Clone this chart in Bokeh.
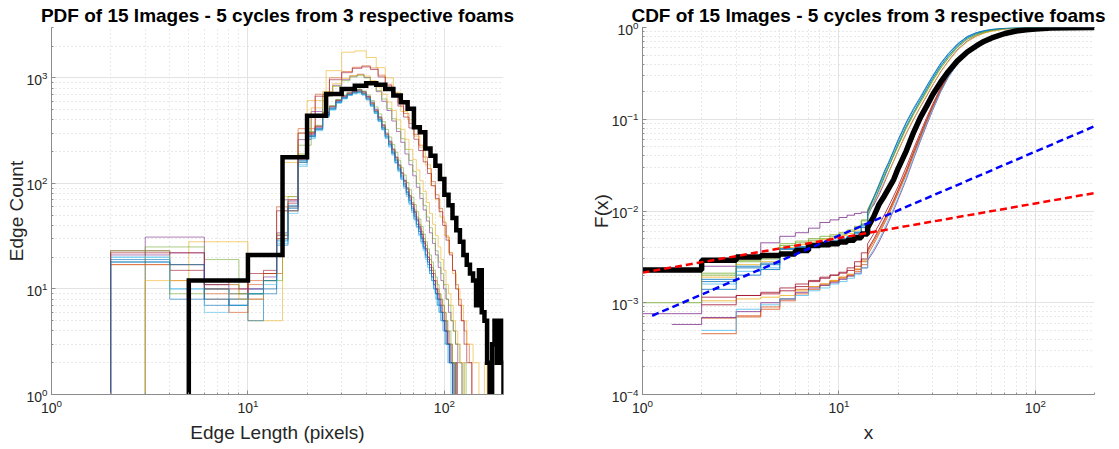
from bokeh.plotting import figure
from bokeh.layouts import row
from bokeh.models import Range1d
from bokeh.embed import file_html
from bokeh.resources import INLINE

MATLAB_COLORS = ["#0072BD", "#D95319", "#EDB120", "#7E2F8E", "#77AC30", "#4DBEEE", "#A2142F"]

PDF_TITLE = "PDF of 15 Images - 5 cycles from 3 respective foams"
CDF_TITLE = "CDF of 15 Images - 5 cycles from 3 respective foams"

# ---------------- PDF data ----------------
PDF_MEAN_START = 5
PDF_MEAN_WIDTH = 5
PDF_MEAN_COUNTS = [12, 21, 177, 438, 704, 785, 844, 887, 862, 785, 680, 586, 511, 340, 305,
                   214, 183, 147, 110, 78, 62, 47, 36, 28, 21, 17, 14, 12, 7, 15,
                   6, 5, 2, 0, 3, 5, 2, 5, 2]

PDF_IMG_START = [2, 2, 5, 3, 3, 2, 2, 2, 2, 3, 2, 2, 2, 2, 2]
PDF_IMG_WIDTH = [2, 4, 5, 3, 3, 2, 2, 2, 2, 3, 2, 2, 2, 4, 2]

PDF_IMG_01 = [19, 17, 7, 8, 9, 10, 30, 62, 165, 285, 330, 450, 520, 600, 655, 700, 745, 760, 720, 650,
              565, 480, 405, 340, 282, 238, 200, 168, 140, 118, 100, 84, 71, 60, 51, 44, 37, 31, 27, 23,
              19, 16, 14, 12, 10, 8, 7, 6, 5, 5, 4, 3, 3, 2, 2, 1, 2, 1, 0, 1, 1, 0, 1]
PDF_IMG_02 = [17, 8, 12, 60, 330, 700, 1000, 1150, 1260, 1300, 1240, 1060, 870, 720, 580, 460, 370, 290,
              230, 178, 138, 104, 78, 58, 43, 31, 22, 15, 11, 8, 5, 4, 3, 2, 1, 1, 1, 0, 1, 1]
PDF_IMG_03 = [28, 5, 158, 610, 1170, 1750, 1800, 1560, 1250, 1000, 730, 480, 400, 280, 220, 150, 95, 70,
              48, 32, 22, 14, 10, 7, 5, 3, 3, 2, 2, 1, 1, 2, 1, 1, 1, 1, 1, 1]
PDF_IMG_04 = [31, 11, 10, 14, 70, 260, 480, 700, 850, 960, 1040, 1080, 1010, 880, 740, 600, 490, 390,
              310, 245, 190, 150, 118, 92, 72, 56, 44, 34, 27, 21, 16, 12, 10, 8, 6, 5, 4, 3, 2, 2,
              1, 1, 0, 1, 1, 0, 1]
PDF_IMG_05 = [25, 19, 9, 12, 55, 230, 450, 670, 830, 940, 1020, 1050, 1000, 890, 760, 630, 510, 410,
              330, 265, 210, 165, 130, 100, 80, 62, 48, 38, 30, 23, 18, 14, 11, 8, 7, 5, 4, 3, 3, 2,
              1, 2, 1, 0, 1, 1, 0, 1]
PDF_IMG_06 = [20, 10, 6, 8, 10, 12, 28, 55, 150, 270, 320, 430, 500, 580, 640, 690, 720, 735, 700, 630,
              550, 470, 395, 330, 275, 230, 192, 160, 135, 112, 95, 80, 67, 57, 48, 41, 35, 30, 25, 21,
              18, 15, 13, 11, 9, 8, 7, 6, 5, 4, 4, 3, 2, 2, 2, 1, 1, 0, 1, 1, 0, 1]
PDF_IMG_07 = [23, 15, 11, 12, 8, 15, 32, 65, 175, 300, 345, 470, 540, 620, 680, 720, 755, 770, 735, 665,
              580, 495, 420, 352, 292, 246, 207, 174, 146, 123, 104, 88, 74, 63, 53, 45, 38, 33, 28, 24,
              20, 17, 15, 12, 10, 9, 8, 7, 6, 5, 4, 3, 3, 2, 2, 1, 2, 1, 0, 1, 1, 0, 1]
PDF_IMG_08 = [18, 8, 10, 7, 5, 9, 26, 58, 160, 280, 325, 440, 505, 585, 640, 685, 715, 725, 690, 620,
              540, 460, 388, 325, 270, 226, 190, 158, 132, 110, 93, 78, 65, 55, 46, 39, 33, 28, 24, 20,
              17, 14, 12, 10, 9, 7, 6, 5, 5, 4, 3, 3, 2, 2, 1, 1, 1, 0, 1]
PDF_IMG_09 = [17, 12, 9, 6, 11, 14, 30, 70, 185, 305, 350, 465, 535, 610, 665, 705, 735, 745, 715, 650,
              570, 490, 415, 350, 292, 247, 209, 176, 149, 126, 107, 91, 77, 66, 56, 48, 41, 35, 30, 26,
              22, 19, 16, 14, 12, 10, 9, 8, 7, 6, 5, 4, 3, 3, 2, 2, 2, 1, 1, 1, 0, 1, 1, 0, 1]
PDF_IMG_10 = [12, 11, 8, 14, 75, 300, 520, 740, 880, 990, 1050, 1080, 1040, 940, 820, 700, 590, 490,
              400, 325, 262, 210, 168, 134, 106, 84, 66, 52, 41, 32, 25, 19, 15, 11, 9, 7, 5, 4, 3, 2,
              2, 1, 1, 1, 0, 1, 1, 0, 1]
PDF_IMG_11 = [21, 22, 11, 9, 10, 13, 34, 68, 170, 290, 340, 455, 530, 610, 670, 715, 750, 775, 740, 670,
              590, 505, 428, 360, 300, 252, 212, 178, 150, 126, 107, 90, 76, 64, 54, 46, 39, 33, 28, 24,
              20, 17, 14, 12, 10, 9, 8, 6, 5, 4, 4, 3, 2, 2, 1, 1, 1, 0, 1]
PDF_IMG_12 = [23, 9, 10, 9, 9, 12, 33, 75, 190, 310, 355, 475, 545, 625, 685, 730, 760, 780, 750, 690,
              610, 530, 455, 385, 325, 275, 233, 197, 166, 141, 120, 102, 87, 74, 63, 54, 46, 39, 33, 28,
              24, 21, 18, 15, 13, 11, 9, 8, 7, 6, 5, 4, 4, 3, 2, 2, 1, 1, 1, 0, 1, 1]
PDF_IMG_13 = [20, 10, 10, 7, 9, 11, 27, 52, 145, 265, 315, 425, 495, 575, 630, 680, 705, 720, 690, 620,
              540, 460, 385, 320, 265, 220, 185, 155, 129, 108, 90, 75, 63, 53, 45, 38, 32, 27, 23, 19,
              16, 14, 12, 10, 8, 7, 6, 5, 4, 3, 3, 2, 2, 1, 1, 1, 0, 1]
PDF_IMG_14 = [22, 10, 14, 55, 300, 670, 960, 1120, 1230, 1270, 1200, 1020, 840, 680, 540, 425, 335, 262,
              205, 160, 124, 95, 72, 54, 40, 29, 21, 15, 10, 7, 5, 3, 2, 2, 1, 1, 0, 1, 1]
PDF_IMG_15 = [18, 17, 8, 7, 9, 12, 29, 60, 158, 278, 328, 445, 512, 592, 648, 695, 728, 740, 705, 635,
              555, 475, 400, 335, 280, 234, 196, 164, 137, 115, 97, 82, 69, 58, 49, 41, 35, 30, 25, 21,
              18, 15, 13, 11, 9, 8, 7, 6, 5, 4, 3, 3, 2, 2, 1, 1, 1, 0, 1, 1]
PDF_IMG_COUNTS = [PDF_IMG_01, PDF_IMG_02, PDF_IMG_03, PDF_IMG_04, PDF_IMG_05, PDF_IMG_06, PDF_IMG_07,
                  PDF_IMG_08, PDF_IMG_09, PDF_IMG_10, PDF_IMG_11, PDF_IMG_12, PDF_IMG_13, PDF_IMG_14,
                  PDF_IMG_15]

# ---------------- CDF data ----------------
CDF_X = [1, 1.41, 2, 3, 4, 5, 6, 7, 8, 9, 10, 11, 12, 13, 14, 15, 16, 17, 18, 19, 20,
         22, 24, 26, 28, 30, 33, 36, 40, 45, 50, 55, 60, 70, 80, 90, 100, 120, 150, 200]
CDF_MEAN = [0.00227, 0.00227, 0.00291, 0.00316, 0.00328, 0.0034, 0.0037, 0.0042, 0.0043, 0.0044,
            0.0046, 0.0048, 0.0051, 0.0056, 0.0066, 0.0086, 0.0118, 0.0145, 0.018, 0.022, 0.029,
            0.045, 0.072, 0.105, 0.14, 0.185, 0.255, 0.33, 0.43, 0.54, 0.63, 0.71, 0.77, 0.86,
            0.915, 0.945, 0.965, 0.985, 0.996, 1.0]
N = None
CDF_IMG_01 = [N, N, 1.7e-3, 2.4e-3, 2.6e-3, 3.8e-3, 4.0e-3, 4.3e-3, 4.5e-3, 4.7e-3, 4.9e-3, 5.2e-3, 5.8e-3,
              7.0e-3, 9.5e-3, 0.0135, 0.019, 0.026, 0.034, 0.045, 0.058, 0.09, 0.128, 0.17, 0.225, 0.29,
              0.4, 0.51, 0.65, 0.79, 0.87, 0.92, 0.95, 0.978, 0.99, 0.995, 0.997, 0.999, 1.0, 1.0]
CDF_IMG_02 = [N, N, 4.6e-4, 7.0e-4, 8.5e-4, 1.1e-3, 1.4e-3, 1.5e-3, 1.6e-3, 1.75e-3, 1.9e-3, 2.0e-3, 2.2e-3,
              2.6e-3, 3.3e-3, 4.3e-3, 5.6e-3, 7.2e-3, 9.3e-3, 0.012, 0.0155, 0.025, 0.041, 0.063, 0.093,
              0.132, 0.205, 0.29, 0.405, 0.535, 0.635, 0.715, 0.775, 0.865, 0.92, 0.952, 0.972, 0.99,
              0.998, 1.0]
CDF_IMG_03 = [N, N, 1.05e-3, 1.1e-3, 1.15e-3, 1.2e-3, 1.35e-3, 1.5e-3, 1.6e-3, 1.75e-3, 1.9e-3, 2.05e-3,
              2.35e-3, 2.9e-3, 3.7e-3, 4.8e-3, 6.2e-3, 8.0e-3, 0.0103, 0.0133, 0.017, 0.0275, 0.045, 0.068,
              0.1, 0.14, 0.215, 0.3, 0.415, 0.545, 0.645, 0.725, 0.785, 0.872, 0.925, 0.956, 0.975, 0.991,
              0.998, 1.0]
CDF_IMG_04 = [7.6e-4, 7.6e-4, 2.5e-3, 3.0e-3, 4.5e-3, 5.3e-3, 5.8e-3, 6.5e-3, 7.5e-3, 8.0e-3, 8.5e-3,
              9.0e-3, 9.4e-3, 9.7e-3, 0.0101, 0.0115, 0.015, 0.02, 0.027, 0.035, 0.045, 0.07, 0.1, 0.137,
              0.18, 0.235, 0.33, 0.43, 0.57, 0.71, 0.81, 0.875, 0.92, 0.965, 0.982, 0.99, 0.995, 0.998,
              0.999, 1.0]
CDF_IMG_05 = [1.0e-3, 1.0e-3, 2.1e-3, 2.8e-3, 3.0e-3, 4.2e-3, 4.5e-3, 4.8e-3, 5.0e-3, 5.3e-3, 5.6e-3,
              6.0e-3, 6.6e-3, 7.8e-3, 0.0102, 0.0138, 0.0185, 0.024, 0.031, 0.04, 0.051, 0.079, 0.113,
              0.152, 0.2, 0.26, 0.36, 0.46, 0.6, 0.74, 0.83, 0.89, 0.93, 0.97, 0.985, 0.992, 0.996, 0.998,
              0.999, 1.0]
CDF_IMG_06 = [N, N, 1.6e-3, 2.2e-3, 2.4e-3, 3.5e-3, 3.8e-3, 4.1e-3, 4.4e-3, 4.6e-3, 4.9e-3, 5.2e-3, 5.7e-3,
              6.8e-3, 9.0e-3, 0.0125, 0.0175, 0.024, 0.032, 0.042, 0.054, 0.084, 0.12, 0.162, 0.215,
              0.278, 0.385, 0.49, 0.63, 0.775, 0.86, 0.91, 0.945, 0.975, 0.988, 0.994, 0.997, 0.999, 1.0,
              1.0]
CDF_IMG_07 = [N, N, 9.5e-4, 1.2e-3, 1.25e-3, 1.35e-3, 1.5e-3, 1.7e-3, 1.85e-3, 2.0e-3, 2.1e-3, 2.25e-3,
              2.5e-3, 3.0e-3, 3.8e-3, 4.9e-3, 6.3e-3, 8.0e-3, 0.0102, 0.0131, 0.0168, 0.027, 0.044, 0.067,
              0.098, 0.138, 0.212, 0.298, 0.412, 0.54, 0.64, 0.72, 0.78, 0.87, 0.922, 0.954, 0.973, 0.99,
              0.998, 1.0]
CDF_IMG_08 = [N, N, 1.4e-3, 2.0e-3, 2.3e-3, 3.3e-3, 3.7e-3, 4.0e-3, 4.3e-3, 4.5e-3, 4.8e-3, 5.1e-3, 5.6e-3,
              6.6e-3, 8.8e-3, 0.012, 0.017, 0.023, 0.031, 0.041, 0.053, 0.083, 0.118, 0.16, 0.212, 0.275,
              0.38, 0.485, 0.625, 0.77, 0.855, 0.905, 0.94, 0.973, 0.987, 0.993, 0.996, 0.999, 1.0, 1.0]
CDF_IMG_09 = [N, N, 6.8e-4, 7.2e-4, 9.0e-4, 1.05e-3, 1.25e-3, 1.4e-3, 1.55e-3, 1.7e-3, 1.85e-3, 2.0e-3,
              2.3e-3, 2.8e-3, 3.6e-3, 4.6e-3, 5.9e-3, 7.6e-3, 9.8e-3, 0.0126, 0.0162, 0.026, 0.042, 0.064,
              0.095, 0.135, 0.208, 0.294, 0.408, 0.538, 0.638, 0.718, 0.778, 0.868, 0.921, 0.953, 0.973,
              0.99, 0.998, 1.0]
CDF_IMG_10 = [N, N, 1.9e-3, 2.6e-3, 2.8e-3, 4.0e-3, 4.3e-3, 4.6e-3, 4.9e-3, 5.1e-3, 5.4e-3, 5.7e-3, 6.2e-3,
              7.2e-3, 9.2e-3, 0.0122, 0.016, 0.021, 0.027, 0.035, 0.045, 0.07, 0.101, 0.138, 0.183, 0.237,
              0.33, 0.425, 0.56, 0.7, 0.8, 0.87, 0.91, 0.96, 0.98, 0.99, 0.995, 0.998, 0.999, 1.0]
CDF_IMG_11 = [N, 5.8e-4, 6.9e-4, 8.0e-4, 1.0e-3, 1.1e-3, 1.3e-3, 1.45e-3, 1.55e-3, 1.65e-3, 1.8e-3, 1.95e-3,
              2.1e-3, 2.4e-3, 2.9e-3, 3.6e-3, 4.6e-3, 6.0e-3, 7.8e-3, 0.0102, 0.0133, 0.022, 0.037, 0.058,
              0.087, 0.125, 0.2, 0.285, 0.4, 0.53, 0.63, 0.71, 0.77, 0.86, 0.915, 0.95, 0.97, 0.988, 0.997,
              1.0]
CDF_IMG_12 = [N, N, 2.0e-3, 2.9e-3, 3.1e-3, 4.4e-3, 4.7e-3, 5.0e-3, 5.3e-3, 5.5e-3, 5.8e-3, 6.2e-3, 6.8e-3,
              8.0e-3, 0.0104, 0.014, 0.0188, 0.0245, 0.0315, 0.041, 0.052, 0.081, 0.116, 0.156, 0.205,
              0.265, 0.365, 0.47, 0.61, 0.75, 0.84, 0.895, 0.935, 0.972, 0.986, 0.993, 0.996, 0.999, 1.0,
              1.0]
CDF_IMG_13 = [N, N, 5.0e-4, 8.5e-4, 9.5e-4, 1.1e-3, 1.2e-3, 1.35e-3, 1.45e-3, 1.6e-3, 1.7e-3, 1.85e-3,
              2.05e-3, 2.4e-3, 3.0e-3, 3.8e-3, 4.9e-3, 6.4e-3, 8.3e-3, 0.0108, 0.014, 0.023, 0.038, 0.06,
              0.09, 0.128, 0.2, 0.285, 0.4, 0.532, 0.632, 0.712, 0.772, 0.862, 0.917, 0.95, 0.971, 0.989,
              0.997, 1.0]
CDF_IMG_14 = [N, N, 1.15e-3, 1.2e-3, 1.3e-3, 1.45e-3, 1.6e-3, 1.75e-3, 1.9e-3, 2.0e-3, 2.15e-3, 2.4e-3,
              2.8e-3, 3.5e-3, 4.4e-3, 5.6e-3, 7.1e-3, 9.0e-3, 0.0115, 0.0146, 0.0185, 0.03, 0.048, 0.072,
              0.105, 0.146, 0.222, 0.308, 0.42, 0.548, 0.648, 0.728, 0.788, 0.875, 0.927, 0.957, 0.976,
              0.991, 0.998, 1.0]
CDF_IMG_15 = [N, N, 1.8e-3, 2.5e-3, 2.7e-3, 3.9e-3, 4.1e-3, 4.4e-3, 4.6e-3, 4.8e-3, 5.0e-3, 5.3e-3, 5.9e-3,
              7.2e-3, 9.8e-3, 0.014, 0.0195, 0.027, 0.035, 0.046, 0.06, 0.093, 0.132, 0.176, 0.232, 0.298,
              0.41, 0.52, 0.66, 0.8, 0.88, 0.925, 0.955, 0.98, 0.991, 0.996, 0.998, 0.999, 1.0, 1.0]
CDF_IMG = [CDF_IMG_01, CDF_IMG_02, CDF_IMG_03, CDF_IMG_04, CDF_IMG_05, CDF_IMG_06, CDF_IMG_07,
           CDF_IMG_08, CDF_IMG_09, CDF_IMG_10, CDF_IMG_11, CDF_IMG_12, CDF_IMG_13, CDF_IMG_14, CDF_IMG_15]

FIT_RED_X = [1, 200]
FIT_RED_F = [0.00213, 0.0157]
FIT_BLUE_X = [1.12, 200]
FIT_BLUE_F = [0.000722, 0.0839]

FONT = "Liberation Sans"
TEXT = "#262626"


def pdf_path(start, width, counts, floor=0.3):
    edges = [start + width * i for i in range(len(counts) + 1)]
    xs, ys = [edges[0]], [floor]
    for i, c in enumerate(counts):
        v = c if c > 0 else floor
        xs += [edges[i], edges[i + 1]]
        ys += [v, v]
    xs.append(edges[-1])
    ys.append(floor)
    return xs, ys


def cdf_path(xg, fg, step_until=14):
    pts = [(x, f) for x, f in zip(xg, fg) if f is not None]
    xs, ys = [], []
    for i, (x, f) in enumerate(pts):
        if i > 0 and x <= step_until:
            xs.append(x)
            ys.append(pts[i - 1][1])
        xs.append(x)
        ys.append(f)
    return xs, ys


def make_fig(title, yr, xlabel, ylabel, left, right, ylabel_standoff):
    p = figure(x_axis_type="log", y_axis_type="log",
               x_range=Range1d(1, 200), y_range=Range1d(*yr),
               frame_width=452, frame_height=367,
               min_border_left=left, min_border_right=right,
               min_border_top=27, min_border_bottom=52,
               toolbar_location=None, output_backend="svg", title=title)
    p.outline_line_color = None
    p.background_fill_color = "white"
    p.border_fill_color = "white"
    p.title.text_font = FONT
    p.title.text_font_size = "19px"
    p.title.text_font_style = "bold"
    p.title.text_color = "black"
    p.title.align = "center"
    p.title.standoff = 4
    for ax in (p.xaxis[0], p.yaxis[0]):
        ax.ticker.num_minor_ticks = 10
        ax.axis_line_color = "#8c8c8c"
        ax.major_tick_line_color = "#8c8c8c"
        ax.minor_tick_line_color = "#8c8c8c"
        ax.major_tick_in = 4
        ax.major_tick_out = 0
        ax.minor_tick_in = 2
        ax.minor_tick_out = 0
        ax.major_label_text_font = FONT
        ax.major_label_text_font_size = "14px"
        ax.major_label_text_color = TEXT
        ax.axis_label_text_font = FONT
        ax.axis_label_text_font_size = "19px"
        ax.axis_label_text_font_style = "normal"
        ax.axis_label_text_color = TEXT
        ax.major_label_standoff = 4
    p.xaxis[0].axis_label_standoff = 6
    p.yaxis[0].axis_label_standoff = ylabel_standoff
    p.xaxis[0].axis_label = xlabel
    p.yaxis[0].axis_label = ylabel
    for g in (p.xgrid[0], p.ygrid[0]):
        g.grid_line_color = "#e3e3e3"
        g.grid_line_width = 1
        g.minor_grid_line_color = "#d2d2d2"
        g.minor_grid_line_dash = "1 3"
    return p


p1 = make_fig(PDF_TITLE, (1, 3000), "Edge Length (pixels)", "Edge Count", 51, 65, -4)
for i in range(15):
    xs, ys = pdf_path(PDF_IMG_START[i], PDF_IMG_WIDTH[i], PDF_IMG_COUNTS[i])
    p1.line(xs, ys, line_color=MATLAB_COLORS[i % 7], line_width=1, line_alpha=0.6)
xs, ys = pdf_path(PDF_MEAN_START, PDF_MEAN_WIDTH, PDF_MEAN_COUNTS)
p1.line(xs, ys, line_color="black", line_width=4.5, line_join="miter")

p2 = make_fig(CDF_TITLE, (1e-4, 1), "x", "F(x)", 74, 17, -3)
for i in range(15):
    xs, ys = cdf_path(CDF_X, CDF_IMG[i])
    p2.line(xs, ys, line_color=MATLAB_COLORS[i % 7], line_width=1, line_alpha=0.8)
xs, ys = cdf_path(CDF_X, CDF_MEAN)
p2.line(xs, ys, line_color="black", line_width=5.5)
p2.line(FIT_BLUE_X, FIT_BLUE_F, line_color="#0000ff", line_width=2.5, line_dash="7 4")
p2.line(FIT_RED_X, FIT_RED_F, line_color="#ff0000", line_width=2.5, line_dash="7 4")

layout = row(p1, p2)
open("out.html", "w").write(file_html(layout, INLINE))
